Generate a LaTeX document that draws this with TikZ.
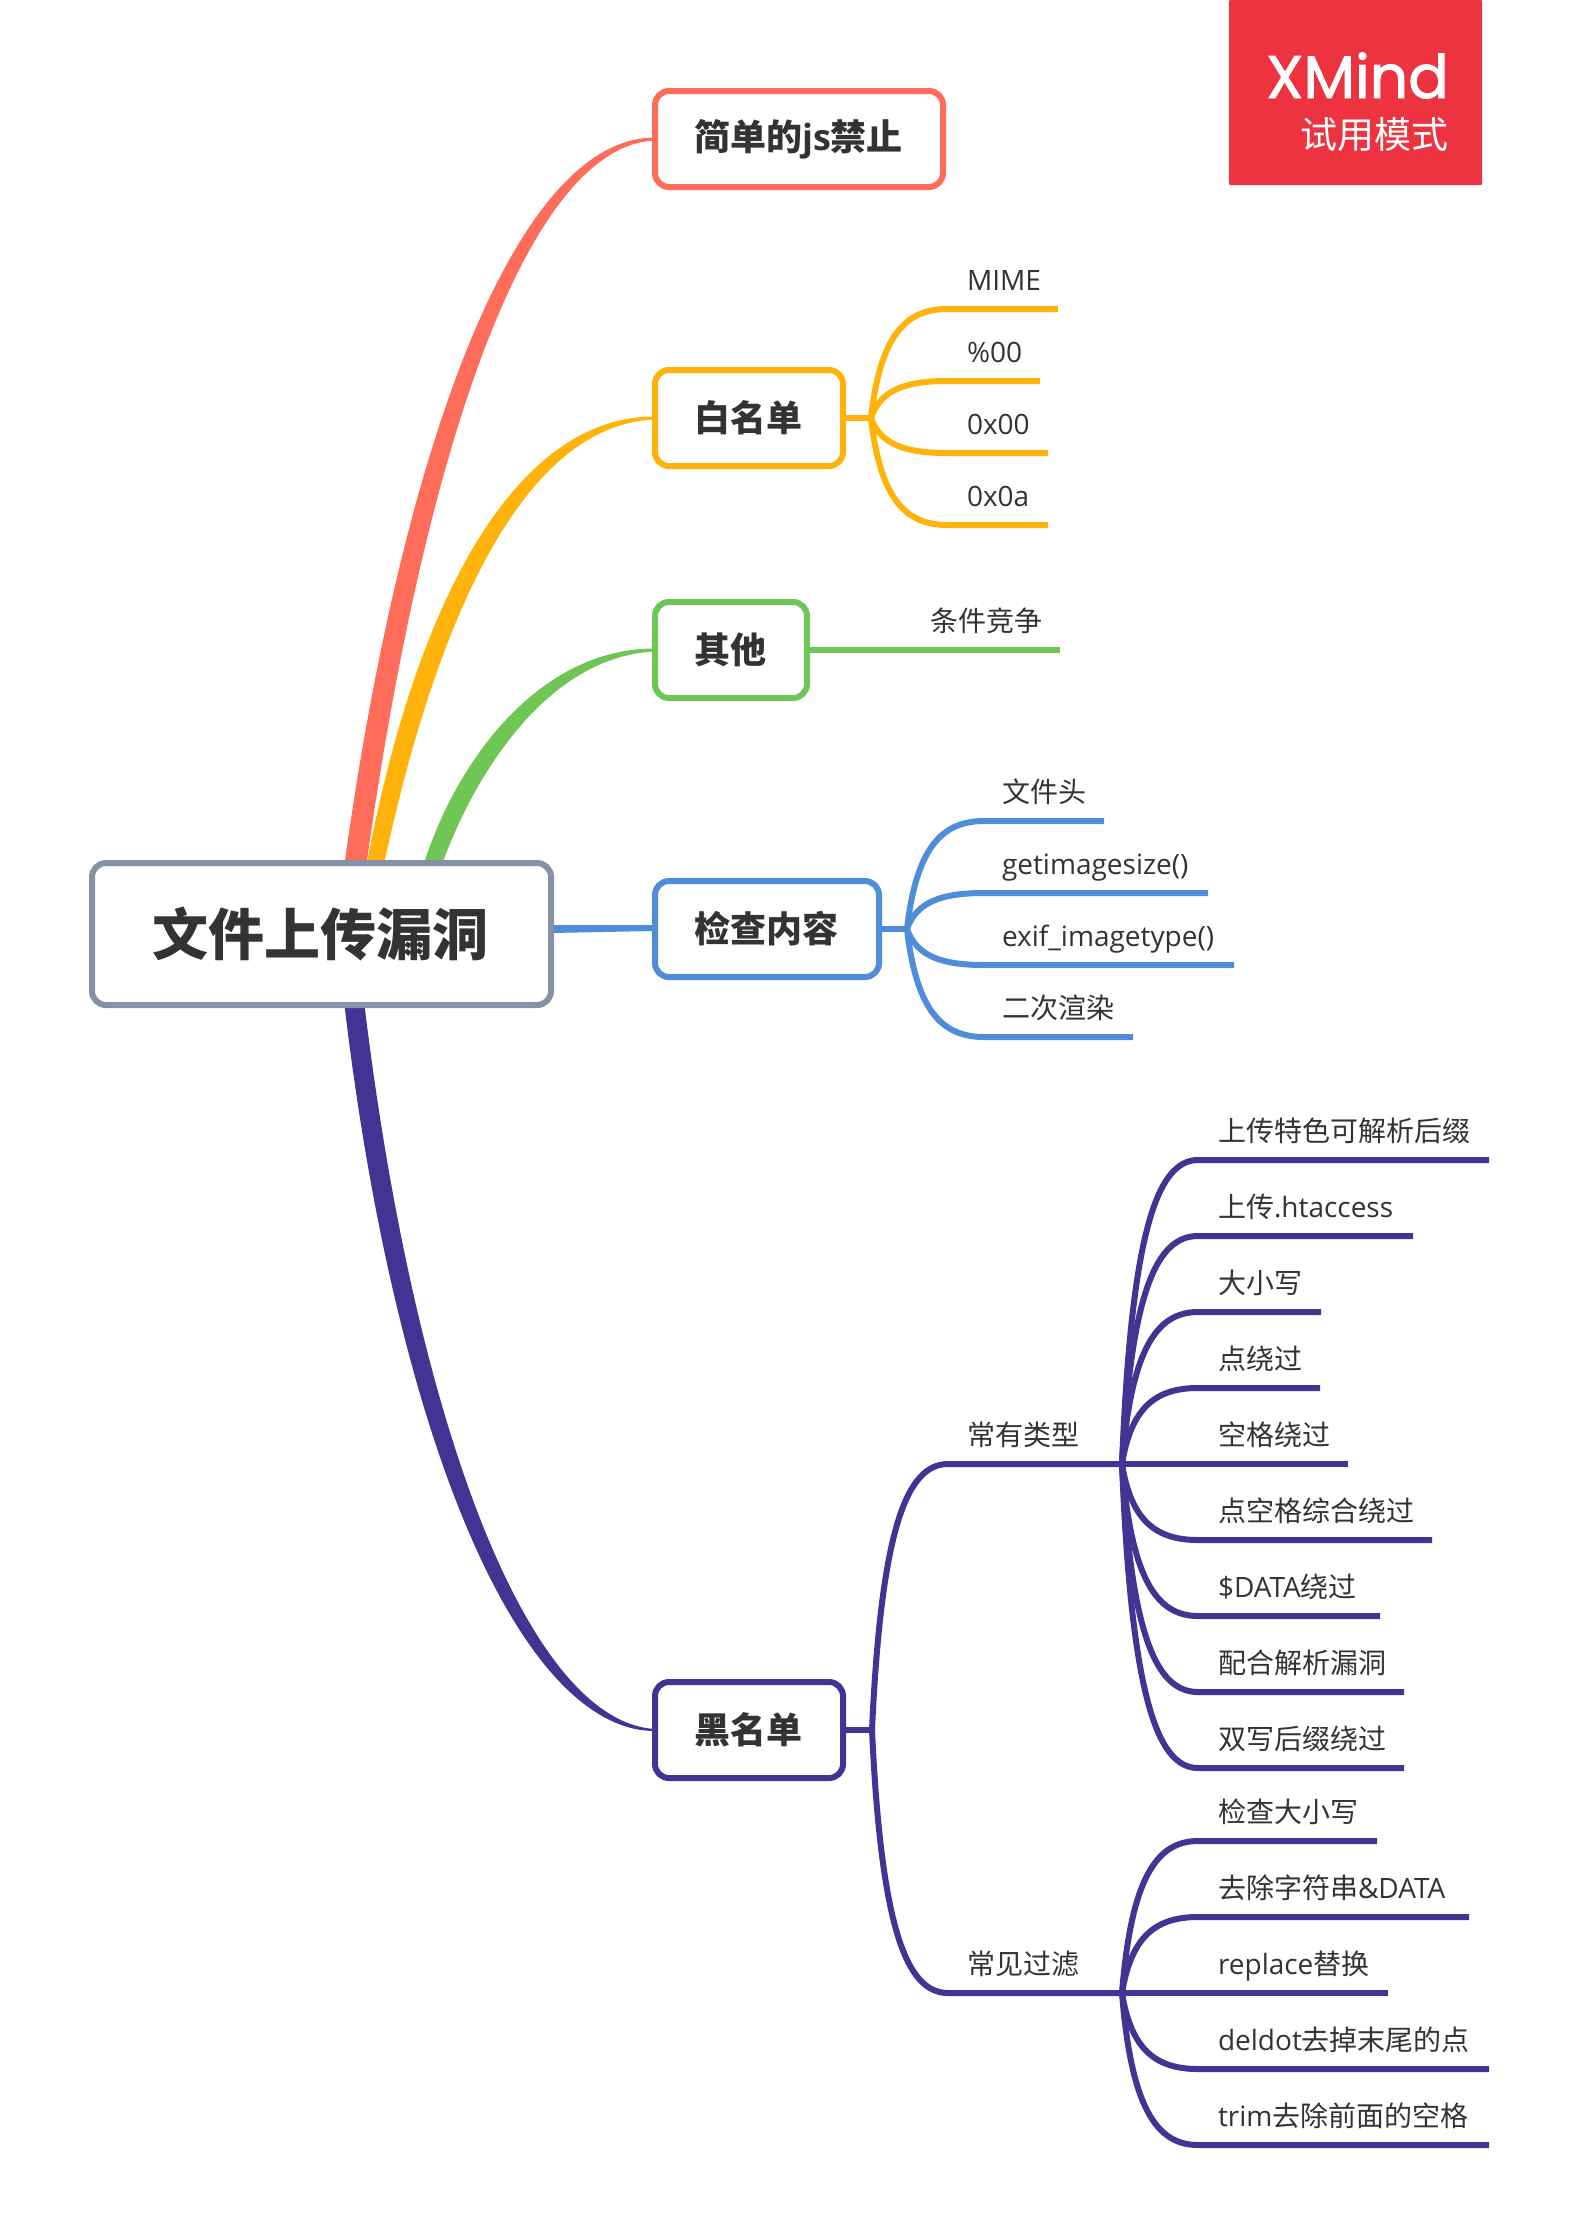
\documentclass[tikz,border=0pt]{standalone}
\usepackage{fontspec}
\usetikzlibrary{calc}
\newfontfamily\cjk{Noto Sans CJK SC}
\newfontfamily\lat{Open Sans}
\newfontfamily\xm[FakeBold=1.6]{Poppins}
\definecolor{ink}{HTML}{333333}
\definecolor{cred}{HTML}{FF6D5A}
\definecolor{cyel}{HTML}{FFB30A}
\definecolor{cgre}{HTML}{6FC654}
\definecolor{cblu}{HTML}{4F8DDB}
\definecolor{cpur}{HTML}{433494}
\definecolor{cgra}{HTML}{8592A6}
\definecolor{cbad}{HTML}{EE3340}
\pgfdeclarelayer{bg}
\pgfsetlayers{bg,main}
\tikzset{
  topicbox/.style={draw=#1,fill=white,line width=6pt,rounded corners=14pt,inner sep=0pt,outer sep=0pt,text=ink,
     font=\fontsize{36}{40}\selectfont\cjk\bfseries},
  leaftext/.style={anchor=base west,inner sep=0pt,outer sep=0pt,text=ink,font=\fontsize{28}{32}\selectfont\cjk},
  wire/.style={draw=#1,line width=6pt},
}
\newcommand{\La}[1]{{\fontsize{28}{32}\selectfont\lat #1}}
\newcommand{\Tt}[1]{\hspace*{-2pt}\raisebox{2pt}{#1}}
% colour, branch, straight-start x, id, y, end x, text x, text
\newcommand{\mmleaf}[8]{%
  \coordinate (#4s) at (#3,#5);
  \coordinate (#4e) at (#6,#5);
  \node[leaftext] (#4) at (#7,#5-19) {#8};
  \begin{pgfonlayer}{bg}
  \coordinate (#4a) at ($(#2)!.12!(#4s)$);
  \coordinate (#4b) at ($(#2)!.75!(#4s)$);
  \coordinate (#4c) at ($(#2)!.45!(#4s)$);
  \draw[wire=#1] (#2) .. controls (#4a |- #4b) and (#4c |- #4s) .. (#4s) -- (#4e);
  \end{pgfonlayer}}
\begin{document}
\begin{tikzpicture}[x=1pt,y=-1pt]
\useasboundingbox (0,0) rectangle (1575,2235);
\begin{pgfonlayer}{bg}
\fill[white] (0,0) rectangle (1575,2235);
\end{pgfonlayer}
% trial badge
\node[fill=cbad,minimum width=253pt,minimum height=185pt,inner sep=0pt,outer sep=0pt,anchor=north west,rounded corners=1pt] (badge) at (1229,0) {};
\node[anchor=base east,inner sep=0pt,text=white,font=\fontsize{60}{60}\selectfont\xm] (bt) at (1449,98) {XMind};
\node[anchor=base east,inner sep=0pt,text=white,font=\fontsize{37}{40}\selectfont\cjk] (bs) at (1449,148) {试用模式};
% topics
\node[draw=cgra,fill=white,line width=6pt,rounded corners=14pt,inner sep=0pt,outer sep=0pt,text=ink,
  minimum width=459pt,minimum height=142pt,font=\fontsize{56}{60}\selectfont\cjk\bfseries] (root) at (321.5,934) {\Tt{文件上传漏洞}};
\node[topicbox=cred,minimum width=288pt,minimum height=96pt] (t1) at (799,139) {\hspace*{-1pt}\raisebox{-1pt}{简单的{\lat js}禁止}};
\node[topicbox=cyel,minimum width=188pt,minimum height=96pt] (t2) at (749,418) {\Tt{白名单}};
\node[topicbox=cgre,minimum width=152pt,minimum height=96pt] (t3) at (731,650) {\Tt{其他}};
\node[topicbox=cblu,minimum width=224pt,minimum height=96pt] (t4) at (767,929) {\Tt{检查内容}};
\node[topicbox=cpur,minimum width=188pt,minimum height=96pt] (t5) at (749,1730) {\Tt{黑名单}};
% root branches
\begin{pgfonlayer}{bg}
\fill[cred] ([xshift=22,yshift=-8]root.north) .. controls (404,430) and (520,137) .. ([yshift=1.5]t1.west)
   -- ([yshift=-1.5]t1.west) .. controls (530,145) and (425,440) .. ([xshift=44,yshift=-8]root.north) -- cycle;
\fill[cyel] ([xshift=44,yshift=-8]root.north) .. controls (417,590) and (520,416) .. ([yshift=1.5]t2.west)
   -- ([yshift=-1.5]t2.west) .. controls (530,424) and (440,600) .. ([xshift=61,yshift=-8]root.north) -- cycle;
\fill[cgre] ([xshift=100,yshift=-8]root.north) .. controls (455,760) and (540,648) .. ([yshift=1.5]t3.west)
   -- ([yshift=-1.5]t3.west) .. controls (550,656) and (475,770) .. ([xshift=118,yshift=-8]root.north) -- cycle;
\fill[cpur] ([xshift=22,yshift=8]root.south) .. controls (395,1440) and (520,1731) .. ([yshift=-1]t5.west)
   -- ([yshift=1]t5.west) .. controls (530,1722) and (415,1430) .. ([xshift=42,yshift=8]root.south) -- cycle;
\fill[cblu] ([yshift=9]root.east) -- ([yshift=4]t4.west) -- ([yshift=-2]t4.west) -- ([yshift=1]root.east) -- cycle;
\end{pgfonlayer}
% white list
\coordinate (b2) at (871,418);
\begin{pgfonlayer}{bg}\draw[wire=cyel] (t2.east) -- (b2);\end{pgfonlayer}
\mmleaf{cyel}{b2}{947}{w1}{309}{1058}{967}{\La{MIME}}
\mmleaf{cyel}{b2}{947}{w2}{381}{1040}{967}{\La{\%00}}
\mmleaf{cyel}{b2}{947}{w3}{453}{1048}{967}{\La{0x00}}
\mmleaf{cyel}{b2}{947}{w4}{525}{1048}{967}{\La{0x0a}}
% other
\coordinate (o1e) at (1060,650);
\node[leaftext] (o1) at (930,631) {条件竞争};
\begin{pgfonlayer}{bg}\draw[wire=cgre] (t3.east) -- (o1e);\end{pgfonlayer}
% content
\coordinate (b4) at (907,929);
\begin{pgfonlayer}{bg}\draw[wire=cblu] (t4.east) -- (b4);\end{pgfonlayer}
\mmleaf{cblu}{b4}{984}{c1}{821}{1104}{1002}{文件头}
\mmleaf{cblu}{b4}{984}{c2}{893}{1208}{1002}{\La{getimagesize()}}
\mmleaf{cblu}{b4}{984}{c3}{965}{1234}{1002}{\La{exif\_imagetype()}}
\mmleaf{cblu}{b4}{984}{c4}{1037}{1133}{1002}{二次渲染}
% black list
\coordinate (b5) at (872,1730);
\coordinate (b6) at (1122,1464);
\coordinate (b7) at (1122,1993);
\begin{pgfonlayer}{bg}\draw[wire=cpur] (t5.east) -- (b5);\end{pgfonlayer}
\mmleaf{cpur}{b5}{948}{g1}{1464}{1122}{967}{常有类型}
\mmleaf{cpur}{b5}{948}{g2}{1993}{1122}{967}{常见过滤}
\mmleaf{cpur}{b6}{1198}{k1}{1160}{1489}{1218}{上传特色可解析后缀}
\mmleaf{cpur}{b6}{1198}{k2}{1236}{1413}{1218}{上传\La{.htaccess}}
\mmleaf{cpur}{b6}{1198}{k3}{1312}{1321}{1218}{大小写}
\mmleaf{cpur}{b6}{1198}{k4}{1388}{1320}{1218}{点绕过}
\mmleaf{cpur}{b6}{1198}{k5}{1464}{1348}{1218}{空格绕过}
\mmleaf{cpur}{b6}{1198}{k6}{1540}{1432}{1218}{点空格综合绕过}
\mmleaf{cpur}{b6}{1198}{k7}{1616}{1380}{1218}{\La{\$DATA}绕过}
\mmleaf{cpur}{b6}{1198}{k8}{1692}{1404}{1218}{配合解析漏洞}
\mmleaf{cpur}{b6}{1198}{k9}{1768}{1404}{1218}{双写后缀绕过}
\mmleaf{cpur}{b7}{1198}{f1}{1841}{1377}{1218}{检查大小写}
\mmleaf{cpur}{b7}{1198}{f2}{1917}{1469}{1218}{去除字符串\La{\&DATA}}
\mmleaf{cpur}{b7}{1198}{f3}{1993}{1388}{1218}{\La{replace}替换}
\mmleaf{cpur}{b7}{1198}{f4}{2069}{1489}{1218}{\La{deldot}去掉末尾的点}
\mmleaf{cpur}{b7}{1198}{f5}{2145}{1489}{1218}{\La{trim}去除前面的空格}
\end{tikzpicture}
\end{document}
